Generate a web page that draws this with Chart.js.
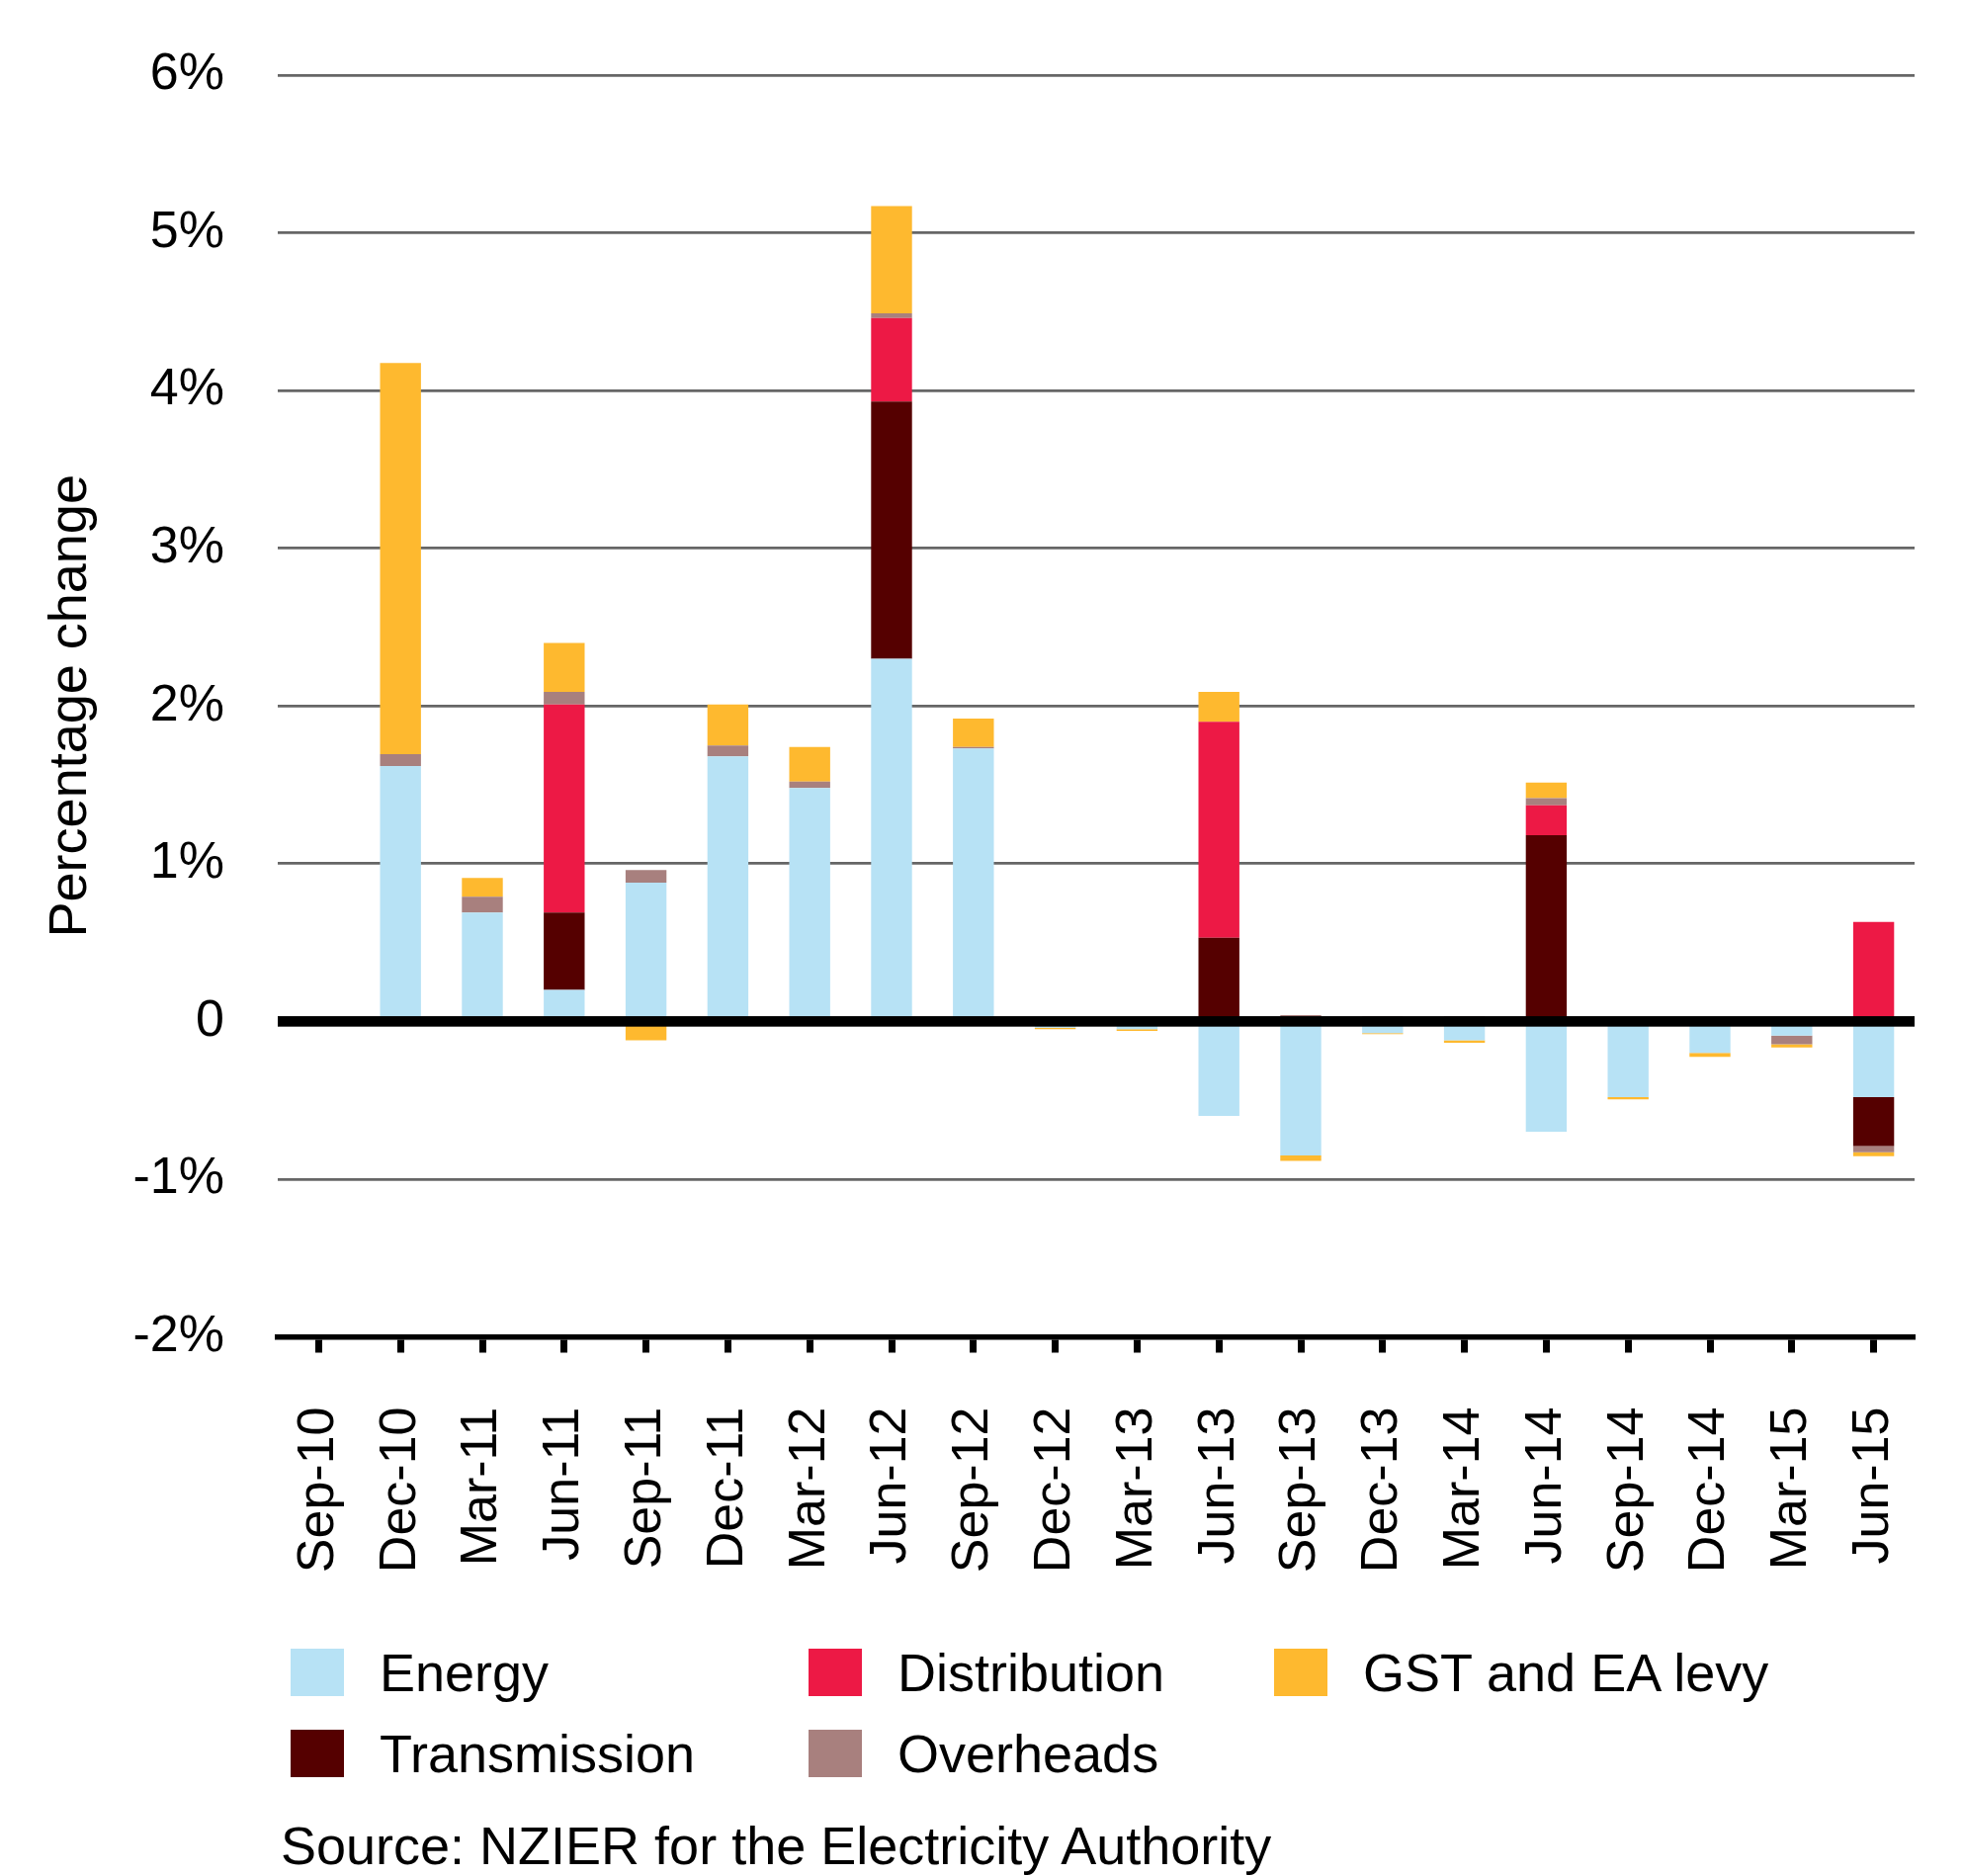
<!DOCTYPE html>
<html>
<head>
<meta charset="utf-8">
<title>Percentage change</title>
<script src="https://cdn.jsdelivr.net/npm/chart.js@4.4.1/dist/chart.umd.min.js"></script>
<style>
  html, body { margin: 0; padding: 0; background: #fff; }
  #wrap { position: relative; width: 1986px; height: 1898px; font-family: 'Liberation Sans', Arial, sans-serif; color: #000; }
  #myChart { position: absolute; left: 0; top: 0; }
  #legend {
    position: absolute; left: 294px; top: 1668px;
    display: grid; grid-template-columns: 524px 471px 420px; grid-auto-rows: 82px;
  }
  .legend-item { position: relative; height: 48px; }
  .legend-box { position: absolute; left: 0; top: 0; width: 54px; height: 48px; }
  .legend-text { position: absolute; left: 90px; top: 0; font-size: 54px; line-height: 48px; white-space: nowrap; }
  #source { position: absolute; left: 284px; top: 1840px; font-size: 54px; line-height: 54px; white-space: nowrap; }
</style>
</head>
<body>
<div id="wrap">
  <canvas id="myChart" width="1986" height="1898"></canvas>
  <div id="legend"></div>
  <div id="source">Source: NZIER for the Electricity Authority</div>
</div>
<script>
// quarter labels
const categories = ['Sep-10', 'Dec-10', 'Mar-11', 'Jun-11', 'Sep-11', 'Dec-11', 'Mar-12', 'Jun-12', 'Sep-12', 'Dec-12',
    'Mar-13', 'Jun-13', 'Sep-13', 'Dec-13', 'Mar-14', 'Jun-14', 'Sep-14', 'Dec-14', 'Mar-15', 'Jun-15']

// contributions, percentage points
const energy = [0, 1.62, 0.69, 0.20, 0.88, 1.68, 1.48, 2.30, 1.73, -0.04, -0.05, -0.60, -0.85, -0.075, -0.12, -0.70, -0.48, -0.20, -0.09, -0.48]
const transmission = [0, 0, 0, 0.49, 0, 0, 0, 1.63, 0, 0, 0, 0.53, 0, 0, 0, 1.18, 0, 0, 0, -0.31]
const distribution = [0, 0, 0, 1.32, 0, 0, 0, 0.53, 0, 0, 0, 1.37, 0, 0, 0, 0.19, 0, 0, 0, 0.63]
const overheads = [0, 0.075, 0.10, 0.08, 0.08, 0.07, 0.04, 0.03, 0.01, 0, 0, 0, 0.04, 0.03, 0.03, 0.045, 0, 0, -0.055, -0.04]
const gstLevy = [0, 2.48, 0.12, 0.31, -0.12, 0.26, 0.22, 0.68, 0.18, -0.01, -0.01, 0.19, -0.035, -0.005, -0.015, 0.10, -0.015, -0.025, -0.02, -0.025]

const yTicks = [-2, -1, 0, 1, 2, 3, 4, 5, 6]

const FONT = "'Liberation Sans', Arial, sans-serif"

const series = [
    { label: 'Energy', data: energy, color: '#b7e2f5' },
    { label: 'Transmission', data: transmission, color: '#550000' },
    { label: 'Distribution', data: distribution, color: '#ed1945' },
    { label: 'Overheads', data: overheads, color: '#a8807e' },
    { label: 'GST and EA levy', data: gstLevy, color: '#feb92f' },
]
// legend reads across in three columns
const legendOrder = ['Energy', 'Distribution', 'GST and EA levy', 'Transmission', 'Overheads']

// thick black line at zero, drawn over the bars
const zeroLine = {
    id: 'zeroLine',
    afterDatasetsDraw(chart) {
        const { ctx, chartArea, scales } = chart
        const y = scales.y.getPixelForValue(0)
        ctx.save()
        ctx.fillStyle = '#000'
        ctx.fillRect(chartArea.left, y - 5.3, chartArea.right - chartArea.left, 10.6)
        ctx.restore()
    }
}

function initializeChart() {
    const ctx = document.getElementById('myChart')
    return new Chart(ctx, {
        type: 'bar',
        data: {
            labels: categories,
            datasets: series.map(s => ({
                label: s.label,
                data: s.data,
                backgroundColor: s.color,
                borderWidth: 0,
                barPercentage: 0.5,
                categoryPercentage: 1,
            }))
        },
        options: {
            responsive: false,
            animation: false,
            devicePixelRatio: 1,
            layout: { padding: { top: 76, right: 49, left: 0, bottom: 0 } },
            plugins: {
                legend: { display: false },
                tooltip: { enabled: false }
            },
            scales: {
                x: {
                    stacked: true,
                    grid: {
                        offset: false,
                        drawOnChartArea: false,
                        drawTicks: true,
                        tickLength: 16,
                        tickWidth: 7,
                        tickColor: '#000'
                    },
                    border: { display: true, color: '#000', width: 5.5 },
                    ticks: {
                        color: '#000',
                        font: { family: FONT, size: 52 },
                        minRotation: 90,
                        maxRotation: 90,
                        autoSkip: false,
                        padding: 55
                    },
                    afterFit: (scale) => {
                        scale.height = 545.5
                        scale.paddingLeft = 0
                        scale.paddingRight = 0
                    }
                },
                y: {
                    stacked: true,
                    min: -2,
                    max: 6,
                    afterBuildTicks: (scale) => { scale.ticks = yTicks.map(v => ({ value: v })) },
                    grid: {
                        drawTicks: false,
                        color: '#666666',
                        lineWidth: 2.8
                    },
                    border: { display: false },
                    ticks: {
                        color: '#000',
                        padding: 54,
                        font: { family: FONT, size: 52 },
                        callback: (v) => v === 0 ? '0' : v + '%'
                    },
                    title: {
                        display: true,
                        text: 'Percentage change',
                        color: '#000',
                        font: { family: FONT, size: 54 },
                        padding: { top: 40, bottom: 0 }
                    },
                    afterFit: (scale) => {
                        scale.width = 281
                        scale.paddingTop = 0
                        scale.paddingBottom = 0
                    }
                }
            }
        },
        plugins: [zeroLine]
    })
}

function renderLegend() {
    const el = document.getElementById('legend')
    legendOrder.forEach(name => {
        const s = series.find(item => item.label === name)
        el.innerHTML += `<div class="legend-item"><div class="legend-box" style="background:${s.color}"></div><span class="legend-text">${s.label}</span></div>`
    })
}

renderLegend()
initializeChart()
</script>
</body>
</html>
